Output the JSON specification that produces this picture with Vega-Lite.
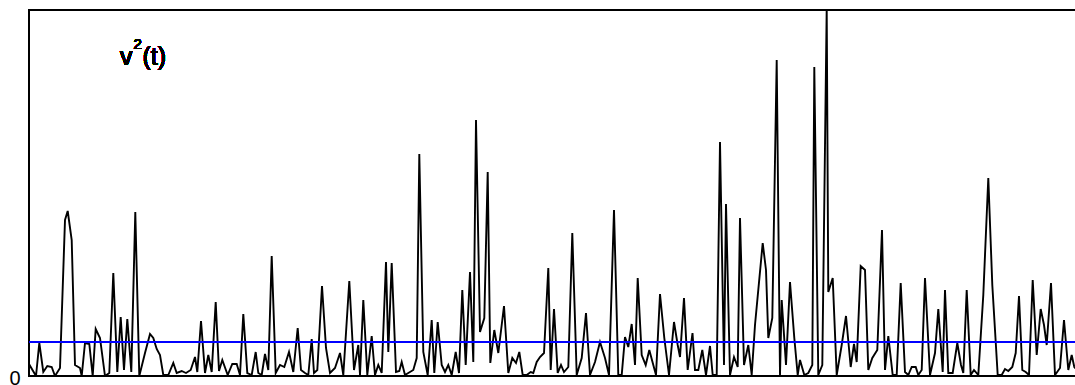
{
  "$schema": "https://vega.github.io/schema/vega-lite/v6.json",
  "width": 1060,
  "height": 366,
  "autosize": "none",
  "padding": {"left": 29, "top": 10, "right": 0, "bottom": 9},
  "config": {
    "view": {"stroke": "black", "strokeWidth": 2},
    "font": "Liberation Sans"
  },
  "data": {"values": [
    {"t":29,"v2":12},{"t":36,"v2":0},{"t":39.3,"v2":33},{"t":43.3,"v2":4},{"t":47.3,"v2":10},{"t":51.7,"v2":9},{"t":55,"v2":0},{"t":60,"v2":8},{"t":65,"v2":156},{"t":67.7,"v2":165},{"t":71.7,"v2":136},{"t":75,"v2":11},{"t":80,"v2":8},{"t":81.7,"v2":0},{"t":85,"v2":33},{"t":89.3,"v2":32},{"t":92.7,"v2":0},{"t":95.7,"v2":47},{"t":100,"v2":38},{"t":105,"v2":0},{"t":109.3,"v2":3},{"t":113.3,"v2":103},{"t":117.3,"v2":4},{"t":120.7,"v2":59},{"t":124,"v2":6},{"t":127.3,"v2":57},{"t":131.3,"v2":4},{"t":135.3,"v2":164},{"t":139.3,"v2":0},{"t":145,"v2":23},{"t":150,"v2":42},{"t":153.3,"v2":38},{"t":156.7,"v2":27},{"t":160,"v2":21},{"t":163.3,"v2":1},{"t":168.3,"v2":1},{"t":173.3,"v2":13},{"t":176.7,"v2":3},{"t":181.7,"v2":5},{"t":186,"v2":3},{"t":190.7,"v2":6},{"t":195,"v2":19},{"t":197.3,"v2":4},{"t":201,"v2":55},{"t":205,"v2":3},{"t":208.3,"v2":21},{"t":211.7,"v2":4},{"t":215.7,"v2":74},{"t":219,"v2":5},{"t":222.3,"v2":16},{"t":227.7,"v2":1},{"t":232.3,"v2":12},{"t":236.7,"v2":12},{"t":240,"v2":1},{"t":243.3,"v2":62},{"t":247.3,"v2":3},{"t":251.7,"v2":1},{"t":255.7,"v2":24},{"t":258.3,"v2":3},{"t":261.7,"v2":1},{"t":265,"v2":22},{"t":268.3,"v2":6},{"t":271.7,"v2":120},{"t":275.7,"v2":3},{"t":280,"v2":11},{"t":284.3,"v2":9},{"t":289,"v2":24},{"t":293.3,"v2":4},{"t":297.7,"v2":48},{"t":301,"v2":6},{"t":305,"v2":3},{"t":308.3,"v2":1},{"t":311.7,"v2":37},{"t":314,"v2":3},{"t":317.3,"v2":6},{"t":322,"v2":90},{"t":326,"v2":28},{"t":330,"v2":3},{"t":335,"v2":8},{"t":340,"v2":23},{"t":343.3,"v2":1},{"t":349.3,"v2":95},{"t":354,"v2":6},{"t":358.3,"v2":31},{"t":360,"v2":1},{"t":363.3,"v2":76},{"t":367.3,"v2":1},{"t":371.7,"v2":40},{"t":375,"v2":1},{"t":378.3,"v2":11},{"t":381.7,"v2":3},{"t":386,"v2":114},{"t":388.3,"v2":24},{"t":391.7,"v2":113},{"t":396,"v2":4},{"t":399.3,"v2":5},{"t":401.7,"v2":14},{"t":405,"v2":1},{"t":408.3,"v2":3},{"t":413.3,"v2":6},{"t":416.7,"v2":18},{"t":419.3,"v2":222},{"t":423.3,"v2":24},{"t":427.7,"v2":1},{"t":431.7,"v2":56},{"t":434.3,"v2":3},{"t":437.7,"v2":54},{"t":441.7,"v2":11},{"t":445,"v2":4},{"t":448.3,"v2":11},{"t":451.7,"v2":1},{"t":455.7,"v2":24},{"t":459,"v2":3},{"t":462.3,"v2":86},{"t":465.7,"v2":11},{"t":470,"v2":104},{"t":473.3,"v2":14},{"t":476,"v2":256},{"t":480,"v2":44},{"t":484.3,"v2":58},{"t":487.7,"v2":204},{"t":490.3,"v2":13},{"t":494.3,"v2":46},{"t":498.3,"v2":23},{"t":504,"v2":70},{"t":508.3,"v2":3},{"t":512.3,"v2":18},{"t":516,"v2":13},{"t":519.3,"v2":24},{"t":522.7,"v2":1},{"t":526.7,"v2":1},{"t":530.7,"v2":4},{"t":533.3,"v2":3},{"t":536.7,"v2":14},{"t":540,"v2":19},{"t":544,"v2":23},{"t":548.3,"v2":108},{"t":550.7,"v2":6},{"t":554,"v2":67},{"t":557.7,"v2":3},{"t":561,"v2":11},{"t":564,"v2":4},{"t":568.3,"v2":9},{"t":572.3,"v2":143},{"t":576.7,"v2":1},{"t":581.7,"v2":18},{"t":586,"v2":63},{"t":590,"v2":1},{"t":595,"v2":14},{"t":600,"v2":34},{"t":605,"v2":18},{"t":609,"v2":1},{"t":614,"v2":166},{"t":618.3,"v2":1},{"t":621.7,"v2":1},{"t":625,"v2":39},{"t":628.3,"v2":29},{"t":631.7,"v2":52},{"t":635,"v2":11},{"t":637.7,"v2":98},{"t":641.7,"v2":21},{"t":645.7,"v2":11},{"t":649.3,"v2":26},{"t":653.3,"v2":11},{"t":656,"v2":1},{"t":660,"v2":82},{"t":664.3,"v2":38},{"t":669,"v2":1},{"t":674,"v2":54},{"t":677.7,"v2":31},{"t":680,"v2":19},{"t":684,"v2":78},{"t":687.7,"v2":6},{"t":692.5,"v2":43},{"t":695,"v2":6},{"t":698.3,"v2":6},{"t":702.3,"v2":26},{"t":706,"v2":1},{"t":710,"v2":30},{"t":712.7,"v2":1},{"t":716.7,"v2":1},{"t":720,"v2":234},{"t":724,"v2":11},{"t":726,"v2":172},{"t":730,"v2":1},{"t":734,"v2":19},{"t":737.7,"v2":9},{"t":740,"v2":158},{"t":744,"v2":11},{"t":748.3,"v2":31},{"t":751.7,"v2":1},{"t":755,"v2":51},{"t":762.7,"v2":133},{"t":766,"v2":106},{"t":768.3,"v2":38},{"t":772.3,"v2":58},{"t":776.7,"v2":316},{"t":780,"v2":1},{"t":781.7,"v2":76},{"t":786,"v2":11},{"t":790,"v2":94},{"t":794.3,"v2":38},{"t":797.7,"v2":1},{"t":800,"v2":16},{"t":804.3,"v2":1},{"t":808.3,"v2":3},{"t":812.3,"v2":11},{"t":814.3,"v2":309},{"t":818.3,"v2":1},{"t":822.3,"v2":11},{"t":826.7,"v2":368},{"t":828.3,"v2":84},{"t":832.7,"v2":98},{"t":836.7,"v2":1},{"t":841.7,"v2":31},{"t":846,"v2":60},{"t":850.7,"v2":9},{"t":854,"v2":32},{"t":856.7,"v2":14},{"t":860.7,"v2":110},{"t":865,"v2":106},{"t":868.3,"v2":6},{"t":872.3,"v2":18},{"t":877.3,"v2":26},{"t":882,"v2":146},{"t":885,"v2":6},{"t":888.3,"v2":40},{"t":892.7,"v2":1},{"t":896.7,"v2":1},{"t":900.7,"v2":93},{"t":905,"v2":4},{"t":908.3,"v2":1},{"t":911.7,"v2":9},{"t":915.7,"v2":9},{"t":918.3,"v2":1},{"t":921.7,"v2":6},{"t":925,"v2":98},{"t":930,"v2":1},{"t":935,"v2":23},{"t":938.3,"v2":67},{"t":942.7,"v2":4},{"t":945,"v2":86},{"t":948.3,"v2":3},{"t":952.7,"v2":3},{"t":957.3,"v2":33},{"t":961,"v2":11},{"t":963.3,"v2":3},{"t":966.7,"v2":86},{"t":970.7,"v2":1},{"t":974,"v2":6},{"t":978.3,"v2":1},{"t":983.3,"v2":81},{"t":988.3,"v2":198},{"t":992.3,"v2":91},{"t":997.7,"v2":1},{"t":1001.7,"v2":1},{"t":1005,"v2":7},{"t":1008.3,"v2":5},{"t":1012.3,"v2":9},{"t":1015.7,"v2":23},{"t":1019,"v2":80},{"t":1022.3,"v2":6},{"t":1025.7,"v2":4},{"t":1029,"v2":1},{"t":1032.7,"v2":96},{"t":1036.7,"v2":21},{"t":1040.7,"v2":67},{"t":1044,"v2":51},{"t":1046.7,"v2":31},{"t":1051,"v2":93},{"t":1055,"v2":1},{"t":1060,"v2":8},{"t":1064,"v2":56},{"t":1068.3,"v2":6},{"t":1071.7,"v2":21},{"t":1074.3,"v2":9},{"t":1078,"v2":5}
  ]},
  "layer": [
    {
      "mark": {"type": "line", "color": "black", "strokeWidth": 1.9, "clip": true},
      "encoding": {
        "x": {"field": "t", "type": "quantitative", "scale": {"domain": [29, 1089], "nice": false, "zero": false}, "axis": null},
        "y": {"field": "v2", "type": "quantitative", "scale": {"domain": [0, 366], "nice": false},
              "axis": {"values": [0], "ticks": false, "domain": false, "grid": false, "title": null, "labelFontSize": 20, "labelColor": "black", "labelPadding": 9, "labelFont": "Liberation Sans", "labelBaseline": "middle", "labelOffset": 2}}
      }
    },
    {
      "mark": {"type": "rule", "color": "#0000ff", "strokeWidth": 1.6},
      "encoding": {"y": {"datum": 34}}
    },
    {
      "mark": {"type": "text", "text": "v", "fontSize": 25, "fontWeight": "normal", "align": "left", "baseline": "alphabetic", "color": "black"},
      "encoding": {"x": {"datum": 120}, "y": {"datum": 311}}
    },
    {
      "mark": {"type": "text", "text": "2", "fontSize": 15, "fontWeight": "normal", "align": "left", "baseline": "alphabetic", "color": "black"},
      "encoding": {"x": {"datum": 133.5}, "y": {"datum": 327}}
    },
    {
      "mark": {"type": "text", "text": "(t)", "fontSize": 25, "fontWeight": "normal", "align": "left", "baseline": "alphabetic", "color": "black"},
      "encoding": {"x": {"datum": 142.5}, "y": {"datum": 311}}
    }
  ]
}
